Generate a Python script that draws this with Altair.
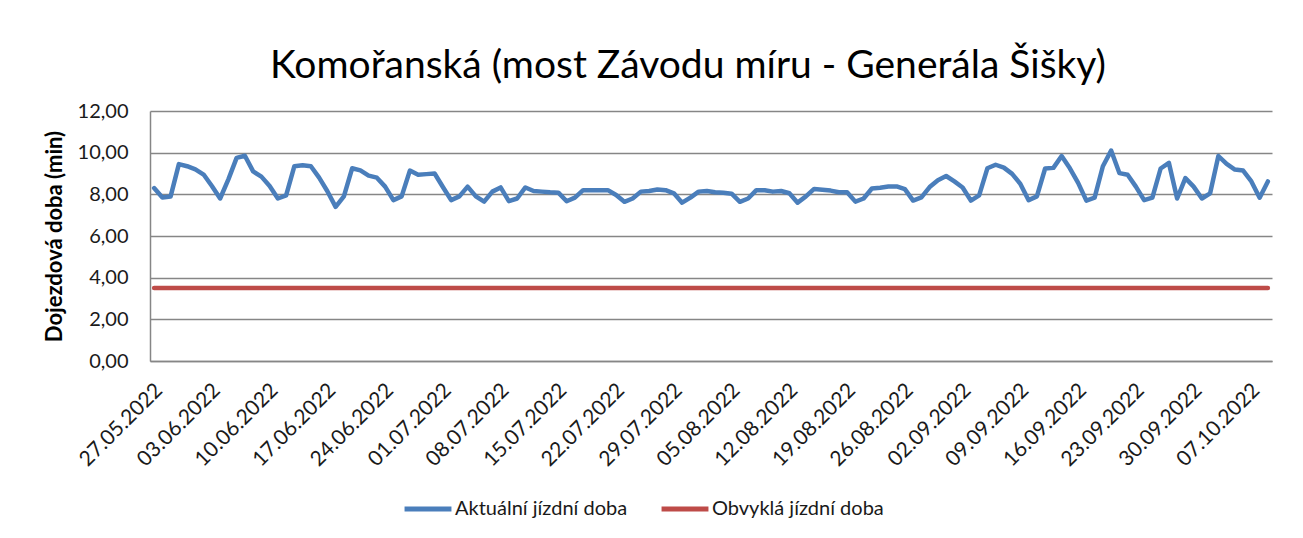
import altair as alt
import pandas as pd

chart_title = "Komořanská (most Závodu míru - Generála Šišky)"
y_title = "Dojezdová doba (min)"
series_names = ["Aktuální jízdní doba", "Obvyklá jízdní doba"]
series_colors = ["#4A7EBB", "#BE4B48"]
start_date = "2022-05-27"

actual = [
    8.30, 7.85, 7.90, 9.45, 9.35, 9.20, 8.95, 8.40, 7.80, 8.72,
    9.75, 9.85, 9.10, 8.85, 8.40, 7.80, 7.95, 9.35, 9.40, 9.35,
    8.80, 8.15, 7.40, 7.90, 9.25, 9.15, 8.90,
    8.80, 8.37, 7.72, 7.90, 9.14, 8.94, 8.97, 9.00, 8.35, 7.72,
    7.90, 8.37, 7.90, 7.65, 8.13, 8.33, 7.67, 7.80, 8.33, 8.16,
    8.13, 8.10, 8.08, 7.67, 7.84, 8.20, 8.20,
    8.20, 8.20, 7.97, 7.64, 7.80, 8.13, 8.16, 8.23, 8.20, 8.05,
    7.60, 7.84, 8.13, 8.16, 8.10, 8.08, 8.03, 7.64, 7.80, 8.20,
    8.20, 8.13, 8.16, 8.05, 7.60, 7.90, 8.26,
    8.22, 8.18, 8.10, 8.10, 7.65, 7.80, 8.28, 8.32, 8.38, 8.38,
    8.25, 7.70, 7.85, 8.35, 8.68, 8.88, 8.62, 8.33, 7.70, 7.95,
    9.25, 9.42, 9.28, 8.98, 8.50, 7.72, 7.90,
    9.24, 9.27, 9.84, 9.25, 8.55, 7.70, 7.84, 9.35, 10.10, 9.02,
    8.94, 8.37, 7.72, 7.84, 9.24, 9.51, 7.80, 8.78, 8.37, 7.80,
    8.05, 9.84, 9.46, 9.19, 9.14, 8.62, 7.84, 8.62,
]
usual = [3.5] * len(actual)

tick_dates = [
    "2022-05-27", "2022-06-03", "2022-06-10", "2022-06-17", "2022-06-24",
    "2022-07-01", "2022-07-08", "2022-07-15", "2022-07-22", "2022-07-29",
    "2022-08-05", "2022-08-12", "2022-08-19", "2022-08-26", "2022-09-02",
    "2022-09-09", "2022-09-16", "2022-09-23", "2022-09-30", "2022-10-07",
]
y_ticks = [0, 2, 4, 6, 8, 10, 12]


def ms(d):
    return int(pd.Timestamp(d, tz="UTC").timestamp() * 1000)


dates = pd.date_range(start_date, periods=len(actual), freq="D", tz="UTC")
date_ms = [int(d.timestamp() * 1000) for d in dates]

df = pd.DataFrame({
    "date": date_ms * 2,
    "value": actual + usual,
    "series": [series_names[0]] * len(actual) + [series_names[1]] * len(usual),
})

half_day = 12 * 3600 * 1000
x_domain = [date_ms[0] - half_day, date_ms[-1] + half_day]

FONT = "Lato"

chart = alt.Chart(df).mark_line(
    strokeWidth=4.5, strokeJoin="round", strokeCap="round"
).encode(
    x=alt.X(
        "date:T",
        scale=alt.Scale(type="utc", domain=x_domain),
        axis=alt.Axis(
            values=[ms(d) for d in tick_dates],
            labelExpr="utcFormat(datum.value, '%d.%m.%Y')",
            labelAngle=-45,
            labelAlign="right",
            labelBaseline="top",
            labelPadding=18,
            labelOffset=-3,
            labelFontSize=21,
            labelColor="#1a1a1a",
            labelLimit=0,
            ticks=False,
            grid=False,
            domainColor="#868686",
            domainWidth=1.5,
            title=None,
            labelOverlap=False,
        ),
    ),
    y=alt.Y(
        "value:Q",
        scale=alt.Scale(domain=[0, 12], nice=False),
        axis=alt.Axis(
            values=y_ticks,
            labelExpr="replace(format(datum.value, '.2f'), '.', ',')",
            labelFontSize=20,
            labelColor="#1a1a1a",
            labelPadding=22,
            ticks=False,
            grid=True,
            gridColor="#868686",
            gridWidth=1.5,
            domainColor="#868686",
            domainWidth=1.5,
            title=y_title,
            titleFontSize=22,
            titleFontWeight="bold",
            titleColor="#000000",
            titlePadding=11,
        ),
    ),
    color=alt.Color(
        "series:N",
        scale=alt.Scale(domain=series_names, range=series_colors),
        legend=alt.Legend(
            orient="none",
            legendX=252,
            legendY=372,
            direction="horizontal",
            title=None,
            symbolType="stroke",
            symbolStrokeWidth=5,
            symbolSize=2200,
            labelFontSize=20,
            labelColor="#1a1a1a",
            labelLimit=0,
            labelOffset=1,
            columnPadding=23,
        ),
    ),
).properties(
    width=1122,
    height=250,
    title=alt.TitleParams(
        chart_title, fontSize=39, fontWeight="normal", color="#000000",
        anchor="middle", frame="group", dx=-23, offset=15,
    ),
    padding={"left": 142, "top": 103, "right": 23, "bottom": 170},
    autosize=alt.AutoSizeParams(type="none"),
).configure(
    font=FONT,
).configure_view(
    stroke=None,
)

chart.save("out.html", embed_options={"renderer": "svg", "actions": False})
